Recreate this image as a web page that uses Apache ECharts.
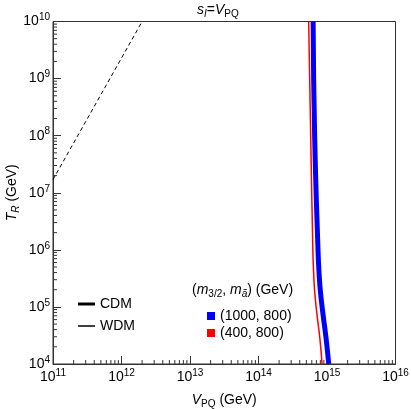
<!DOCTYPE html>
<html>
<head>
<meta charset="utf-8">
<script src="https://cdn.jsdelivr.net/npm/echarts@6/dist/echarts.min.js"></script>
<style>
  html, body { margin: 0; padding: 0; background: #fff; }
  #chart { width: 411px; height: 409px; }
</style>
</head>
<body>
<div id="chart"></div>
<script>
// reheating temperature T_R (GeV) at which the curves were read
var tempR = [1e10, 1e8, 9.5e5, 4e5, 1.9e5, 7.8e4, 2.8e4, 1e4]
// V_PQ (GeV) of the two mass sets
var vpqHeavy = [6.27e14, 6.6e14, 7.4e14, 7.65e14, 8.0e14, 8.7e14, 9.7e14, 1.06e15]  // (1000, 800), CDM
var vpqLight = [5.4e14, 5.78e14, 6.22e14, 6.38e14, 6.6e14, 7.1e14, 7.87e14, 8.47e14]  // (400, 800), WDM
// dashed boundary
var boundV = [1e11, 2e12]
var boundT = [1.7e7, 1e10]

var xMin = 1e11, xMax = 1e16
var yMin = 1e4, yMax = 1e10

var minorX = []
var minorY = []
for (var e = 11; e < 16; e++) for (var k = 2; k < 10; k++) minorX.push([k * Math.pow(10, e), yMin])
for (var e2 = 4; e2 < 10; e2++) for (var k2 = 2; k2 < 10; k2++) minorY.push([xMin, k2 * Math.pow(10, e2)])

function pairs (xs, ys) {
  return xs.map(function (x, i) { return [x, ys[i]] })
}

var font = 'Liberation Sans, Arial, sans-serif'
var axisColor = '#333'

function powLabel (v) {
  return '{b|10}{s|' + Math.round(Math.log10(v)) + '}'
}
var powRich = {
  b: { fontSize: 14, fontFamily: font, color: '#000', lineHeight: 18 },
  s: { fontSize: 10, fontFamily: font, color: '#000', verticalAlign: 'top', lineHeight: 18, padding: [0, 0, 7, 0] }
}

// rich styles for italic/sub text
function mathRich (size) {
  return {
    i: { fontSize: size, fontStyle: 'italic', fontFamily: font, color: '#000', lineHeight: size + 4 },
    n: { fontSize: size, fontFamily: font, color: '#000', lineHeight: size + 4 },
    isub: { fontSize: size - 4, fontStyle: 'italic', fontFamily: font, color: '#000', verticalAlign: 'bottom', lineHeight: size + 4 },
    sub: { fontSize: size - 4, fontFamily: font, color: '#000', verticalAlign: 'bottom', lineHeight: size + 4 }
  }
}

function minorTickItem (dir) {
  return function (params, api) {
    var p = api.coord([api.value(0), api.value(1)])
    var shape = dir === 'x'
      ? { x1: p[0], y1: p[1], x2: p[0], y2: p[1] - 4 }
      : { x1: p[0], y1: p[1], x2: p[0] + 4, y2: p[1] }
    return { type: 'line', shape: shape, style: { stroke: axisColor, lineWidth: 1 } }
  }
}

var legendText = { fontSize: 14, fontFamily: font, color: '#000' }

var dom = echarts.init(document.getElementById('chart'))
var option = {
  animation: false,
  textStyle: { fontFamily: font },
  grid: {
    left: 53, right: 15.5, top: 21.5, bottom: 45, outerBoundsMode: 'none', containLabel: false,
    show: true, borderColor: axisColor, borderWidth: 1
  },
  graphic: [
    {
      type: 'text', left: 197, top: 3,
      style: { text: '{i|s}{isub|I}{n|=}{i|V}{sub|PQ}', rich: mathRich(14) }
    },
    {
      type: 'text', left: 192, top: 283,
      style: { text: '{n|(}{i|m}{sub|3/2}{n|, }{i|m}{isub|ã}{n|) (GeV)}', rich: mathRich(14) }
    }
  ],
  legend: [
    {
      data: ['CDM'], left: 73, top: 292, icon: 'rect',
      itemWidth: 17, itemHeight: 3, textStyle: legendText, selectedMode: false
    },
    {
      data: ['WDM'], left: 73, top: 314, icon: 'rect',
      itemWidth: 17, itemHeight: 1.5, textStyle: legendText, selectedMode: false
    },
    {
      data: ['(1000, 800)', '(400, 800)'],
      orient: 'vertical',
      left: 202, top: 304,
      icon: 'rect',
      itemWidth: 8, itemHeight: 8, itemGap: 3,
      textStyle: legendText,
      selectedMode: false
    }
  ],
  xAxis: {
    type: 'log', logBase: 10, min: xMin, max: xMax,
    name: '{i|V}{sub|PQ}{n| (GeV)}', nameLocation: 'middle', nameGap: 27, nameMoveOverlap: false,
    nameTextStyle: { rich: mathRich(14) },
    axisLine: { lineStyle: { color: axisColor } },
    axisTick: { inside: true, length: 8, lineStyle: { color: axisColor } },
    axisLabel: { formatter: powLabel, rich: powRich, margin: 4 },
    splitLine: { show: false }
  },
  yAxis: {
    type: 'log', logBase: 10, min: yMin, max: yMax,
    name: '{i|T}{isub|R}{n| (GeV)}', nameLocation: 'middle', nameGap: 32, nameMoveOverlap: false,
    nameTextStyle: { rich: mathRich(14) },
    axisLine: { lineStyle: { color: axisColor } },
    axisTick: { inside: true, length: 8, lineStyle: { color: axisColor } },
    axisLabel: { formatter: powLabel, rich: powRich, margin: 3 },
    splitLine: { show: false }
  },
  series: [
    {
      name: '(1000, 800)', type: 'line', data: pairs(vpqHeavy, tempR),
      showSymbol: false, symbol: 'none', smooth: 0.5,
      lineStyle: { color: '#0000ff', width: 5 }, itemStyle: { color: '#0000ff' }
    },
    {
      name: '(400, 800)', type: 'line', data: pairs(vpqLight, tempR),
      showSymbol: false, symbol: 'none', smooth: 0.5,
      lineStyle: { color: '#ff0000', width: 1.5 }, itemStyle: { color: '#ff0000' }
    },
    {
      name: 'bound', type: 'line', data: pairs(boundV, boundT),
      showSymbol: false, symbol: 'none',
      lineStyle: { color: '#000', width: 1, type: [4, 3] }
    },
    {
      name: 'CDM', type: 'line', data: [], symbol: 'none',
      lineStyle: { color: '#000', width: 3 }, itemStyle: { color: '#000' }
    },
    {
      name: 'WDM', type: 'line', data: [], symbol: 'none',
      lineStyle: { color: '#000', width: 1 }, itemStyle: { color: '#000' }
    },
    { type: 'custom', data: minorX, renderItem: minorTickItem('x'), silent: true, clip: false },
    { type: 'custom', data: minorY, renderItem: minorTickItem('y'), silent: true, clip: false }
  ]
}
dom.setOption(option)
</script>
</body>
</html>
